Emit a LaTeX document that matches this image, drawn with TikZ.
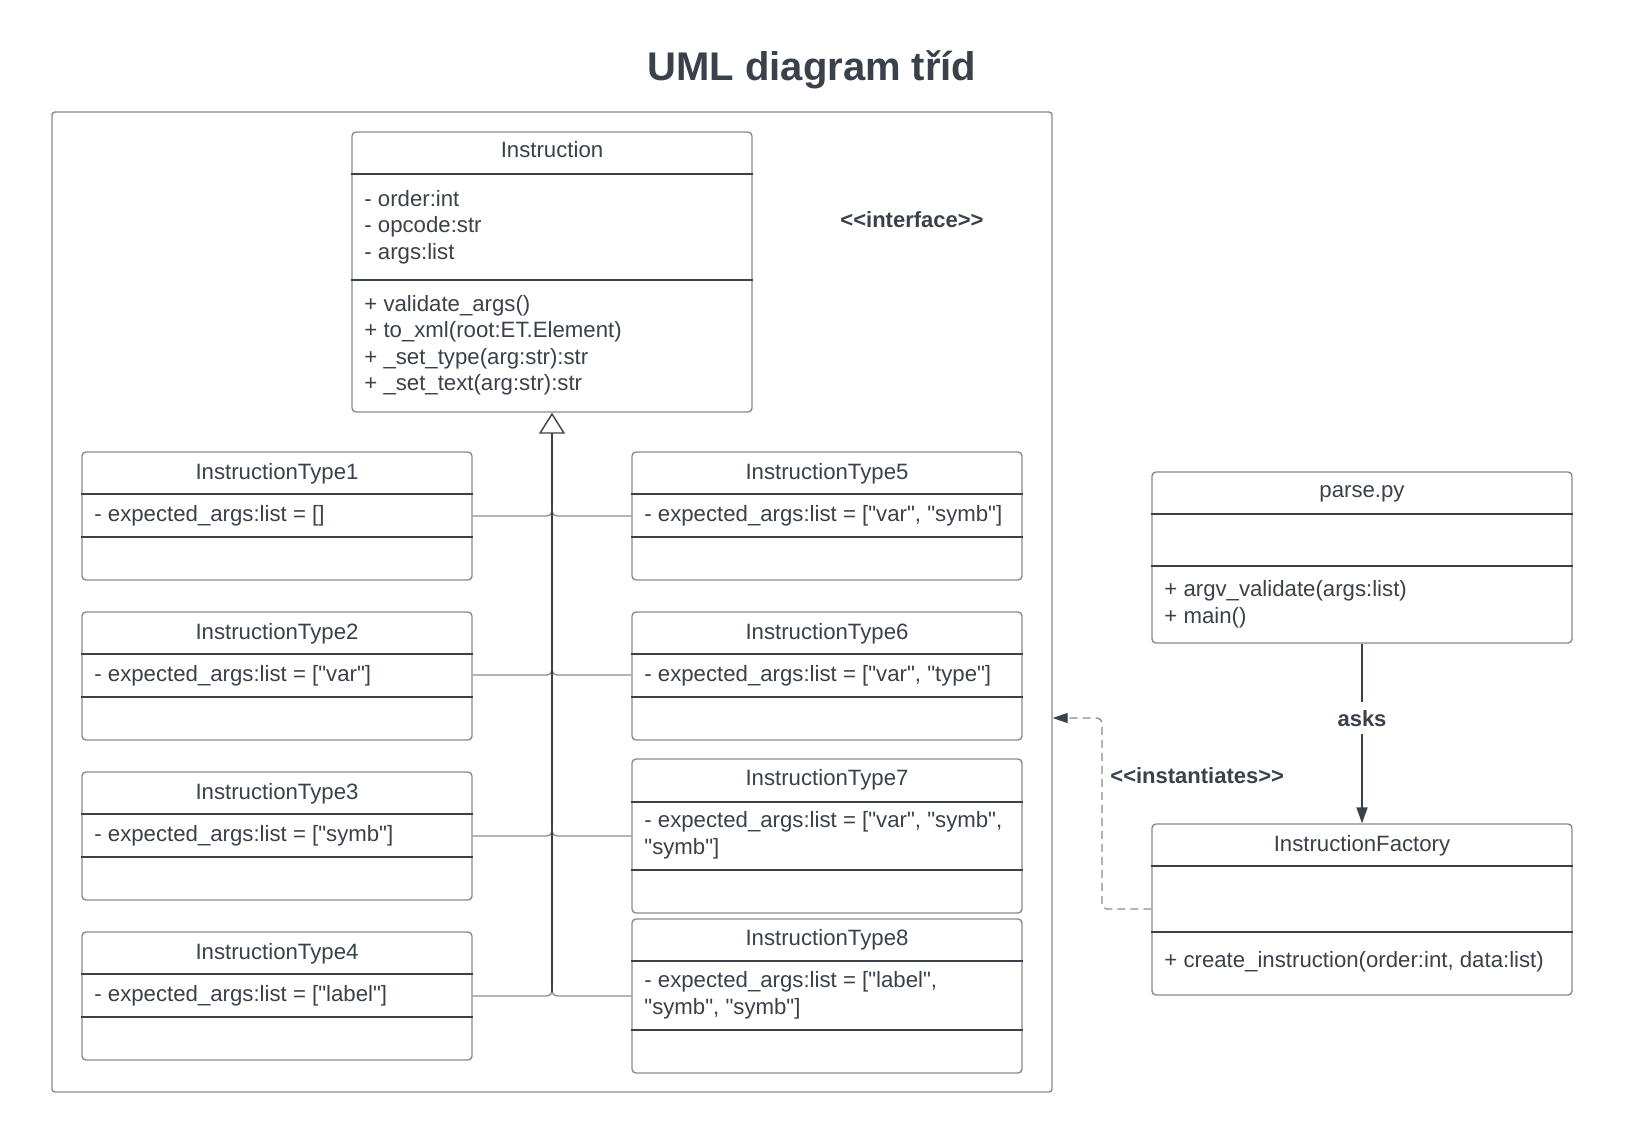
\documentclass[tikz,border=0pt]{standalone}
\usepackage{fontspec}
\setmainfont{Liberation Sans}[Ligatures=TeXOff]
\usetikzlibrary{fit,arrows.meta}
\definecolor{ink}{HTML}{3A414A}
\definecolor{edgegray}{HTML}{868B92}
\begin{document}
\begin{tikzpicture}[x=0.5pt,y=-0.5pt,
  classbox/.style={draw=edgegray,line width=0.7pt,rounded corners=2pt,inner sep=0pt,fill=white},
  framebox/.style={draw=edgegray,line width=0.7pt,rounded corners=1.5pt,inner sep=0pt},
  divider/.style={draw=ink,line width=0.65pt},
  txt/.style={inner sep=0pt,text=ink,font=\fontsize{11.1}{13.3}\selectfont},
  btxt/.style={inner sep=0pt,text=ink,font=\fontsize{11}{13.3}\selectfont\bfseries},
  gen/.style={draw=edgegray,line width=0.65pt,rounded corners=2.5pt},
  trunk/.style={draw=ink,line width=0.9pt},
  askarrow/.style={draw=ink,line width=0.9pt,-{Triangle[length=8pt,width=5.5pt]}},
  dep/.style={draw=edgegray,line width=0.7pt,dash pattern=on 4pt off 2.5pt,rounded corners=2.5pt,
    -{Triangle[length=7.5pt,width=5pt,color=ink]}}
]
\useasboundingbox (0,0) rectangle (1633,1147);

% title
\node[inner sep=0pt,text=ink,font=\fontsize{20}{23}\selectfont\bfseries,anchor=base] (title) at (812,80) {UML diagram tříd};

% frame
\node[framebox, fit={(52,112)(1052,1092)}] (frame) {};

% ---------- Instruction ----------
\node[classbox, fit={(352,132)(752,412)}] (inst) {};
\draw[divider] (inst.west |- 0,174) -- (inst.east |- 0,174);
\draw[divider] (inst.west |- 0,280) -- (inst.east |- 0,280);
\node[txt,anchor=base] (inst-t) at (552,157) {Instruction};
\node[txt,anchor=base west] (inst-a1) at (364,206) {- order:int};
\node[txt,anchor=base west] (inst-a2) at (364,232.7) {- opcode:str};
\node[txt,anchor=base west] (inst-a3) at (364,259.3) {- args:list};
\node[txt,anchor=base west] (inst-m1) at (364,311) {+ validate\_args()};
\node[txt,anchor=base west] (inst-m2) at (364,337.5) {+ to\_xml(root:ET.Element)};
\node[txt,anchor=base west] (inst-m3) at (364,364) {+ \_set\_type(arg:str):str};
\node[txt,anchor=base west] (inst-m4) at (364,390.5) {+ \_set\_text(arg:str):str};

\node[btxt,anchor=base] (iface) at (912,227) {<<interface>>};

% ---------- left children ----------
\node[classbox, fit={(82,452)(472,580)}] (t1) {};
\draw[divider] (t1.west |- 0,494) -- (t1.east |- 0,494);
\draw[divider] (t1.west |- 0,537) -- (t1.east |- 0,537);
\node[txt,anchor=base] (t1-t) at (277,479) {InstructionType1};
\node[txt,anchor=base west] (t1-a) at (94,521) {- expected\_args:list = []};

\node[classbox, fit={(82,612)(472,740)}] (t2) {};
\draw[divider] (t2.west |- 0,654) -- (t2.east |- 0,654);
\draw[divider] (t2.west |- 0,697) -- (t2.east |- 0,697);
\node[txt,anchor=base] (t2-t) at (277,639) {InstructionType2};
\node[txt,anchor=base west] (t2-a) at (94,681) {- expected\_args:list = ["var"]};

\node[classbox, fit={(82,772)(472,900)}] (t3) {};
\draw[divider] (t3.west |- 0,814) -- (t3.east |- 0,814);
\draw[divider] (t3.west |- 0,857) -- (t3.east |- 0,857);
\node[txt,anchor=base] (t3-t) at (277,799) {InstructionType3};
\node[txt,anchor=base west] (t3-a) at (94,841) {- expected\_args:list = ["symb"]};

\node[classbox, fit={(82,932)(472,1060)}] (t4) {};
\draw[divider] (t4.west |- 0,974) -- (t4.east |- 0,974);
\draw[divider] (t4.west |- 0,1017) -- (t4.east |- 0,1017);
\node[txt,anchor=base] (t4-t) at (277,959) {InstructionType4};
\node[txt,anchor=base west] (t4-a) at (94,1001) {- expected\_args:list = ["label"]};

% ---------- right children ----------
\node[classbox, fit={(632,452)(1022,580)}] (t5) {};
\draw[divider] (t5.west |- 0,494) -- (t5.east |- 0,494);
\draw[divider] (t5.west |- 0,537) -- (t5.east |- 0,537);
\node[txt,anchor=base] (t5-t) at (827,479) {InstructionType5};
\node[txt,anchor=base west] (t5-a) at (644,521) {- expected\_args:list = ["var", "symb"]};

\node[classbox, fit={(632,612)(1022,740)}] (t6) {};
\draw[divider] (t6.west |- 0,654) -- (t6.east |- 0,654);
\draw[divider] (t6.west |- 0,697) -- (t6.east |- 0,697);
\node[txt,anchor=base] (t6-t) at (827,639) {InstructionType6};
\node[txt,anchor=base west] (t6-a) at (644,681) {- expected\_args:list = ["var", "type"]};

\node[classbox, fit={(632,759)(1022,913)}] (t7) {};
\draw[divider] (t7.west |- 0,802) -- (t7.east |- 0,802);
\draw[divider] (t7.west |- 0,870) -- (t7.east |- 0,870);
\node[txt,anchor=base] (t7-t) at (827,785) {InstructionType7};
\node[txt,anchor=base west] (t7-a1) at (644,827) {- expected\_args:list = ["var", "symb",};
\node[txt,anchor=base west] (t7-a2) at (644,854) {"symb"]};

\node[classbox, fit={(632,919)(1022,1073)}] (t8) {};
\draw[divider] (t8.west |- 0,961) -- (t8.east |- 0,961);
\draw[divider] (t8.west |- 0,1030) -- (t8.east |- 0,1030);
\node[txt,anchor=base] (t8-t) at (827,945) {InstructionType8};
\node[txt,anchor=base west] (t8-a1) at (644,987) {- expected\_args:list = ["label",};
\node[txt,anchor=base west] (t8-a2) at (644,1014) {"symb", "symb"]};

% ---------- generalization ----------
\coordinate (tip) at (552,434);
\coordinate (trunkbot) at (552,992);
\draw[gen] (t1.east |- 0,516) -| (tip);
\draw[gen] (t2.east |- 0,675) -| (tip);
\draw[gen] (t3.east |- 0,836) -| (tip);
\draw[gen] (t4.east |- 0,996) -| (tip);
\draw[gen] (t5.west |- 0,516) -| (tip);
\draw[gen] (t6.west |- 0,675) -| (tip);
\draw[gen] (t7.west |- 0,836) -| (tip);
\draw[gen] (t8.west |- 0,996) -| (tip);
\draw[trunk,-{Triangle[open,length=10.5pt,width=13pt,line width=0.7pt,fill=white]}] (trunkbot) -- (inst.south);

% ---------- parse.py ----------
\node[classbox, fit={(1152,472)(1572,643)}] (parse) {};
\draw[divider] (parse.west |- 0,514) -- (parse.east |- 0,514);
\draw[divider] (parse.west |- 0,566) -- (parse.east |- 0,566);
\node[txt,anchor=base] (parse-t) at (1362,497) {parse.py};
\node[txt,anchor=base west] (parse-m1) at (1164,596) {+ argv\_validate(args:list)};
\node[txt,anchor=base west] (parse-m2) at (1164,623) {+ main()};

% ---------- InstructionFactory ----------
\node[classbox, fit={(1152,824)(1572,995)}] (fac) {};
\draw[divider] (fac.west |- 0,866) -- (fac.east |- 0,866);
\draw[divider] (fac.west |- 0,932) -- (fac.east |- 0,932);
\node[txt,anchor=base] (fac-t) at (1362,851) {InstructionFactory};
\node[txt,anchor=base west] (fac-m1) at (1164,967) {+ create\_instruction(order:int, data:list)};

% ---------- relations ----------
\draw[askarrow] (parse.south) -- (fac.north);
\node[btxt,anchor=base,fill=white,inner sep=4pt] (asks) at (1362,726) {asks};

\coordinate (bend) at (1102,718);
\draw[dep] (fac.west |- 0,909) -| (bend) -- (frame.east |- bend);
\node[btxt,anchor=base west] (inst-lbl) at (1110,783) {<<instantiates>>};
\end{tikzpicture}
\end{document}
